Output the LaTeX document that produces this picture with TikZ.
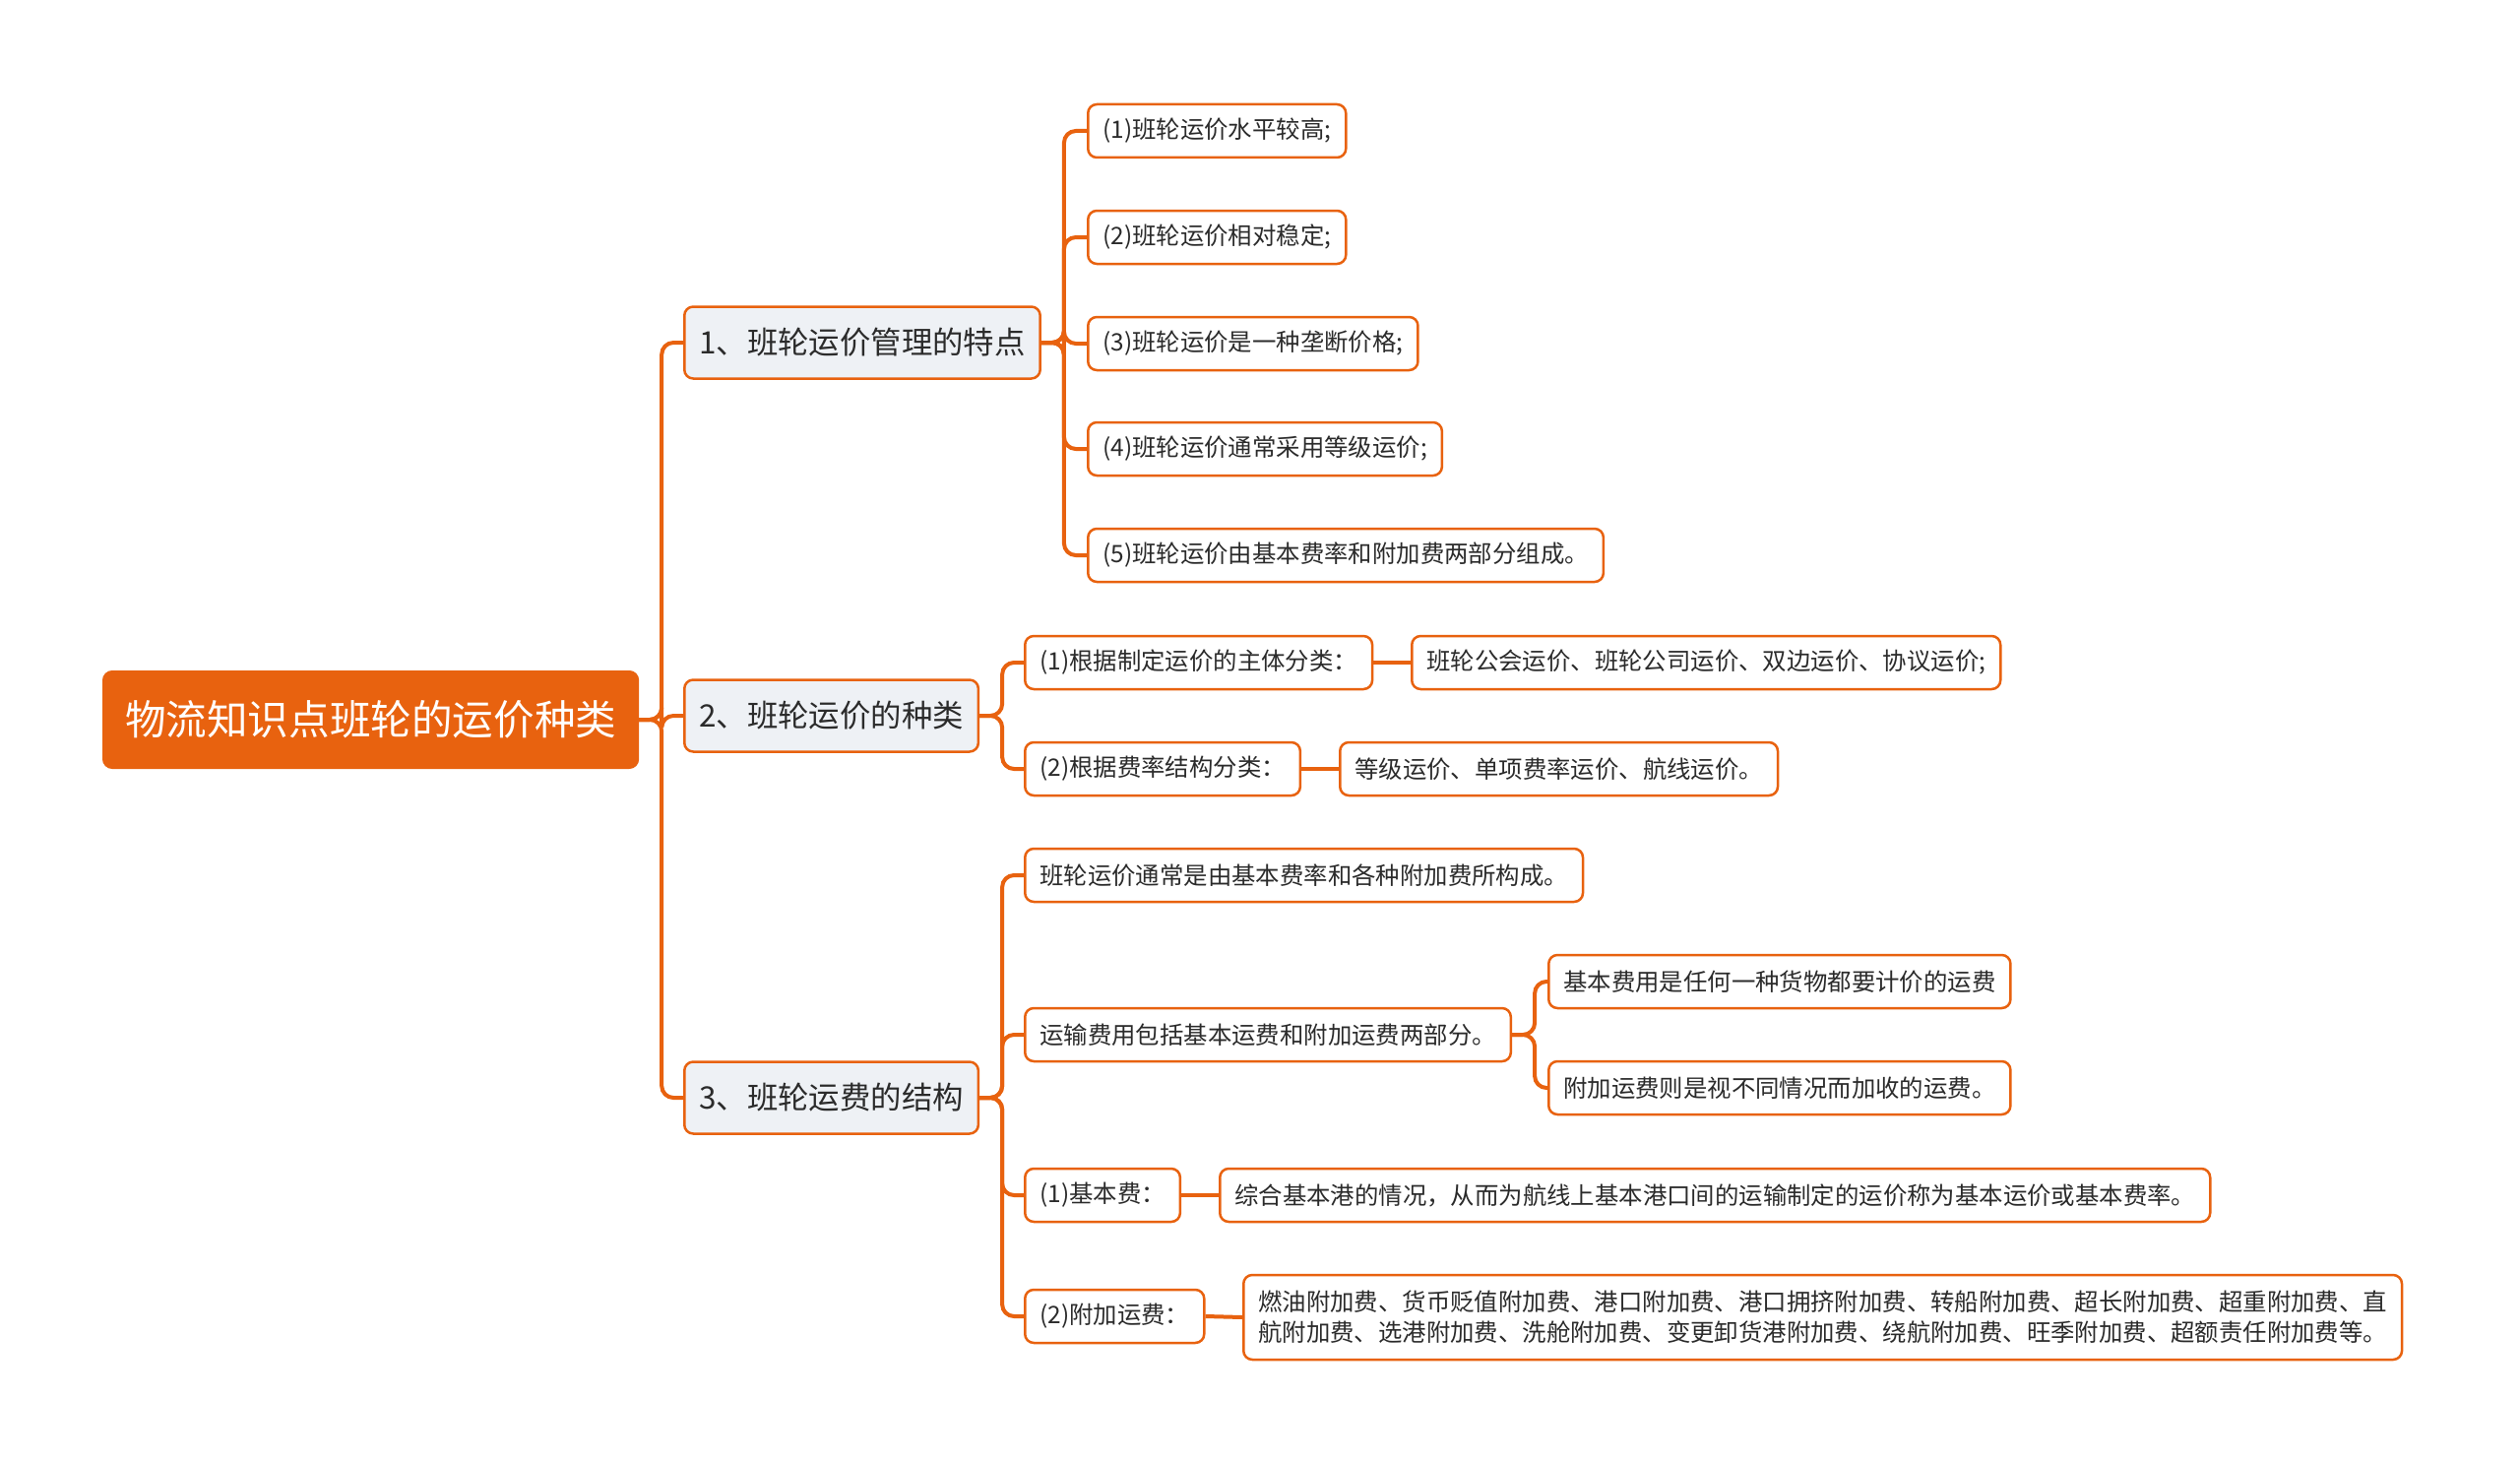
\documentclass[tikz,border=0pt]{standalone}
\usepackage{fontspec}
\newfontfamily\cjk{Noto Sans CJK SC}
\definecolor{org}{HTML}{E8620F}
\definecolor{lgray}{HTML}{EEF1F5}
\definecolor{txt}{HTML}{2B2B2B}
\begin{document}
\begin{tikzpicture}[x=1pt,y=-1pt,
  rootbox/.style={draw=org,fill=org,line width=2pt,rounded corners=9pt,text=white,inner xsep=22pt,inner ysep=0pt,minimum height=98pt,anchor=west,font=\cjk\fontsize{41.6}{48}\selectfont},
  lonebox/.style={draw=org,fill=lgray,line width=2.5pt,rounded corners=9pt,text=txt,inner xsep=15pt,inner ysep=0pt,minimum height=73pt,anchor=west,font=\cjk\fontsize{31.4}{37}\selectfont},
  ltwobox/.style={draw=org,fill=white,line width=2.5pt,rounded corners=9pt,text=txt,inner xsep=15pt,inner ysep=0pt,minimum height=54pt,anchor=west,font=\cjk\fontsize{24.4}{31}\selectfont},
  conn/.style={draw=org,line width=4pt,rounded corners=12pt}
]
\useasboundingbox (0,0) rectangle (2560,1485);
\fill[white] (0,0) rectangle (2560,1485);

\node[rootbox] (root) at (104,731) {物流知识点班轮的运价种类};

\node[lonebox] (A) at (694,348) {1、班轮运价管理的特点};
\node[lonebox] (B) at (694,727) {2、班轮运价的种类};
\node[lonebox] (C) at (694,1115) {3、班轮运费的结构};

\node[ltwobox] (a1) at (1104,133) {(1)班轮运价水平较高;};
\node[ltwobox] (a2) at (1104,241) {(2)班轮运价相对稳定;};
\node[ltwobox] (a3) at (1104,349) {(3)班轮运价是一种垄断价格;};
\node[ltwobox] (a4) at (1104,456) {(4)班轮运价通常采用等级运价;};
\node[ltwobox] (a5) at (1104,564) {(5)班轮运价由基本费率和附加费两部分组成。};

\node[ltwobox] (b1) at (1040,673) {(1)根据制定运价的主体分类：};
\node[ltwobox] (b1c) at (1433,673) {班轮公会运价、班轮公司运价、双边运价、协议运价;};
\node[ltwobox] (b2) at (1040,781) {(2)根据费率结构分类：};
\node[ltwobox] (b2c) at (1360,781) {等级运价、单项费率运价、航线运价。};

\node[ltwobox] (c1) at (1040,889) {班轮运价通常是由基本费率和各种附加费所构成。};
\node[ltwobox] (c2) at (1040,1051) {运输费用包括基本运费和附加运费两部分。};
\node[ltwobox] (c2a) at (1572,997) {基本费用是任何一种货物都要计价的运费};
\node[ltwobox] (c2b) at (1572,1105) {附加运费则是视不同情况而加收的运费。};
\node[ltwobox] (c3) at (1040,1214) {(1)基本费：};
\node[ltwobox] (c3c) at (1238,1214) {综合基本港的情况，从而为航线上基本港口间的运输制定的运价称为基本运价或基本费率。};
\node[ltwobox] (c4) at (1040,1337) {(2)附加运费：};
\node[ltwobox,minimum height=86pt,align=left] (c4c) at (1262,1338) {燃油附加费、货币贬值附加费、港口附加费、港口拥挤附加费、转船附加费、超长附加费、超重附加费、直\\航附加费、选港附加费、洗舱附加费、变更卸货港附加费、绕航附加费、旺季附加费、超额责任附加费等。};

\foreach \c in {A,B,C}{\draw[conn] (root.east) -- ([xshift=23pt]root.east) |- (\c.west);}
\foreach \c in {a1,a2,a3,a4,a5}{\draw[conn] (A.east) -- ([xshift=23pt]A.east) |- (\c.west);}
\foreach \c in {b1,b2}{\draw[conn] (B.east) -- ([xshift=23pt]B.east) |- (\c.west);}
\foreach \c in {c1,c2,c3,c4}{\draw[conn] (C.east) -- ([xshift=23pt]C.east) |- (\c.west);}
\foreach \c in {c2a,c2b}{\draw[conn] (c2.east) -- ([xshift=23pt]c2.east) |- (\c.west);}
\draw[conn] (b1.east) -- (b1c.west);
\draw[conn] (b2.east) -- (b2c.west);
\draw[conn] (c3.east) -- (c3c.west);
\draw[conn] (c4.east) -- (c4c.west);
\end{tikzpicture}
\end{document}
